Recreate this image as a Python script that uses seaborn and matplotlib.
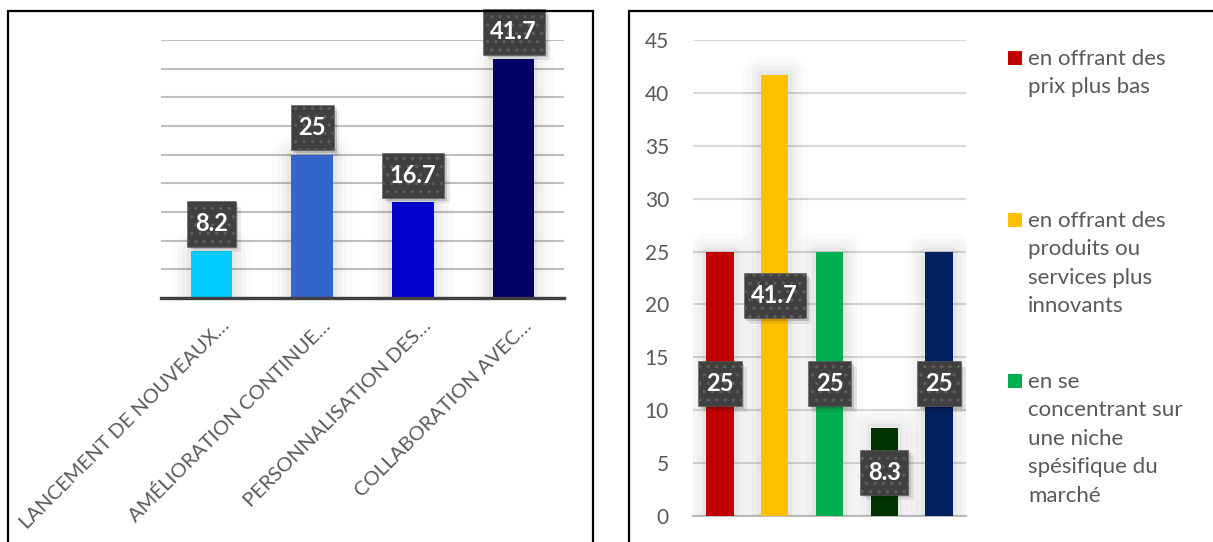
import matplotlib
matplotlib.use("Agg")
import matplotlib.pyplot as plt
import matplotlib.patheffects as pe
from matplotlib.patches import Rectangle
from matplotlib.path import Path
from matplotlib.transforms import ScaledTranslation
import seaborn as sns

# ---- data -------------------------------------------------------------
left_categories = [
    "LANCEMENT DE NOUVEAUX…",
    "AMÉLIORATION CONTINUE…",
    "PERSONNALISATION DES…",
    "COLLABORATION AVEC…",
]
left_values = [8.2, 25, 16.7, 41.7]
left_colors = ["#00CCFF", "#3366CC", "#0000CC", "#000066"]

right_keys = ["s1", "s2", "s3", "s4", "s5"]
right_values = [25, 41.7, 25, 8.3, 25]
right_colors = ["#C00000", "#FFC000", "#00B050", "#003300", "#002060"]
legend_labels = [
    "en offrant des\nprix plus bas",
    "en offrant des\nproduits ou\nservices plus\ninnovants",
    "en se\nconcentrant sur\nune niche\nspésifique du\nmarché",
]
y_ticks = [0, 5, 10, 15, 20, 25, 30, 35, 40, 45]

# ---- style ------------------------------------------------------------
sns.set_theme(style="white")
plt.rcParams["font.family"] = ["Lato", "DejaVu Sans"]
plt.rcParams["hatch.linewidth"] = 1.2

TEXT = "#595959"
W, H = 1213, 542
fig = plt.figure(figsize=(W / 100, H / 100), dpi=100)
fig.patch.set_facecolor("white")


def px_axes(x0, y_top, x1, y_bottom):
    return fig.add_axes([x0 / W, (H - y_bottom) / H, (x1 - x0) / W, (y_bottom - y_top) / H])


def tall_box(x0, y0, width, height, mutation_size):
    """Square label box with more padding above/below than at the sides."""
    px, py = 0.33 * mutation_size, 0.47 * mutation_size
    return Path([(x0 - px, y0 - py), (x0 + width + px, y0 - py),
                 (x0 + width + px, y0 + height + py), (x0 - px, y0 + height + py),
                 (x0 - px, y0 - py)], closed=True)


class PlainShadow(pe.AbstractPathEffect):
    """Offset drop shadow drawn without the patch hatch."""

    def __init__(self, offset=(2, -2), alpha=0.2):
        super().__init__(offset)
        self._alpha = alpha

    def draw_path(self, renderer, gc, tpath, affine, rgbFace):
        gc0 = renderer.new_gc()
        gc0.copy_properties(gc)
        gc0.set_hatch(None)
        gc0.set_linewidth(0)
        gc0.set_alpha(self._alpha)
        renderer.draw_path(gc0, tpath, affine + self._offset_transform(renderer),
                           (0, 0, 0, 1))
        gc0.restore()


glow = [
    pe.Stroke(linewidth=28, foreground="black", alpha=0.015, joinstyle="round"),
    pe.Stroke(linewidth=20, foreground="black", alpha=0.02, joinstyle="round"),
    pe.Stroke(linewidth=13, foreground="black", alpha=0.025, joinstyle="round"),
    pe.Stroke(linewidth=6, foreground="black", alpha=0.035, joinstyle="round"),
    pe.Normal(),
]


def value_box(ax, x, y, text, offset):
    t = ax.annotate(
        text, (x, y), xytext=(0, offset), textcoords="offset pixels",
        ha="center", va="center", color="white", fontsize=17, fontweight="bold",
        annotation_clip=False, zorder=6,
        bbox=dict(boxstyle=tall_box, facecolor="#404040",
                  edgecolor="#5C5C5C", linewidth=0.4, hatch=".."),
    )
    t.get_bbox_patch().set_path_effects([
        PlainShadow(offset=(4, -4), alpha=0.08),
        PlainShadow(offset=(2, -2), alpha=0.15),
        pe.Normal(),
    ])
    return t


# ---- left panel -------------------------------------------------------
axL = px_axes(161, 40, 564, 298)
sns.barplot(x=left_categories, y=left_values, hue=left_categories,
            palette=left_colors, width=0.41, legend=False, saturation=1,
            linewidth=0, ax=axL, zorder=3)
for bar in axL.patches:
    bar.set_path_effects(glow)
axL.set_ylim(0, 45)
axL.set_xlim(-0.5, 3.5)
axL.set_yticks(y_ticks)
axL.set_yticklabels([])
axL.set_axisbelow(True)
axL.yaxis.grid(True, color="#BFBFBF", linewidth=1.5)
axL.xaxis.grid(False)
for s in ("left", "right", "top"):
    axL.spines[s].set_visible(False)
axL.spines["bottom"].set_color("#404040")
axL.spines["bottom"].set_linewidth(2.4)
axL.spines["bottom"].set_zorder(5)
axL.tick_params(axis="both", length=0)
axL.tick_params(axis="x", pad=18, labelsize=14.5, labelcolor=TEXT)
axL.set_xlabel("")
for lab in axL.get_xticklabels():
    lab.set_rotation(45)
    lab.set_ha("right")
    lab.set_va("center")
    lab.set_rotation_mode("anchor")
    lab.set_transform(lab.get_transform() + ScaledTranslation(0.15, 0, fig.dpi_scale_trans))

for i, v in enumerate(left_values):
    value_box(axL, i, v, f"{v:g}", 27)

# ---- right panel ------------------------------------------------------
axR = px_axes(692.6, 40, 966.4, 516)
sns.barplot(x=right_keys, y=right_values, hue=right_keys,
            palette=right_colors, width=0.5, legend=False, saturation=1,
            linewidth=0, ax=axR, zorder=3)
for bar in axR.patches:
    bar.set_path_effects(glow)
axR.set_ylim(0, 45)
axR.set_xlim(-0.5, 4.5)
axR.set_yticks(y_ticks)
axR.set_yticklabels([str(t) for t in y_ticks])
axR.set_xticks([])
axR.set_xlabel("")
axR.set_axisbelow(True)
axR.yaxis.grid(True, color="#D9D9D9", linewidth=1.5)
for s in ("left", "right", "top"):
    axR.spines[s].set_visible(False)
axR.spines["bottom"].set_color("#BFBFBF")
axR.spines["bottom"].set_linewidth(1.5)
axR.tick_params(axis="y", length=0, pad=17, labelsize=15, labelcolor=TEXT)

for i, v in enumerate(right_values):
    value_box(axR, i, v / 2, f"{v:g}", 0)

# legend entries on the right
legend_rows = [58, 220, 381]
for lab, col, yc in zip(legend_labels, right_colors, legend_rows):
    fig.patches.append(Rectangle((1008 / W, (H - yc - 7) / H), 14 / W, 14 / H,
                                 transform=fig.transFigure, facecolor=col,
                                 edgecolor="none"))
    fig.text(1028 / W, (H - yc + 9) / H, lab, ha="left", va="top",
             fontsize=16, color=TEXT, linespacing=1.53)

# panel frames
for x0, x1 in ((8, 593), (629, 1240)):
    fig.patches.append(Rectangle((x0 / W, -0.05), (x1 - x0) / W, (H - 11) / H + 0.05,
                                 transform=fig.transFigure, facecolor="none",
                                 edgecolor="black", linewidth=1.6, zorder=10))

fig.savefig("out.png", dpi=100)
